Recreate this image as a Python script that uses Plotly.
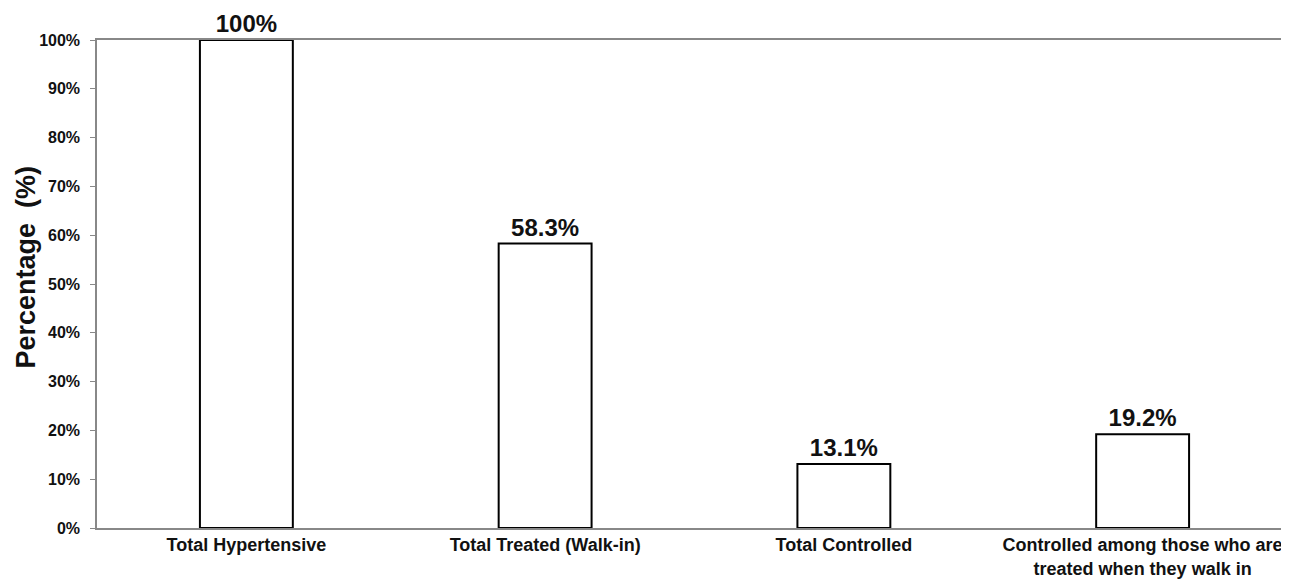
import plotly.graph_objects as go

categories = ["Total Hypertensive", "Total Treated (Walk-in)", "Total Controlled",
              "Controlled among those who are<br>treated when they walk in"]
values = [100, 58.3, 13.1, 19.2]
value_labels = ["100%", "58.3%", "13.1%", "19.2%"]
tick_vals = [0, 10, 20, 30, 40, 50, 60, 70, 80, 90, 100]
tick_text = ["0%", "10%", "20%", "30%", "40%", "50%", "60%", "70%", "80%", "90%", "100%"]
y_title = "Percentage  (%)"

fig = go.Figure(go.Bar(
    x=categories, y=values, text=value_labels, textposition="outside",
    textfont=dict(family="Liberation Sans", size=24, color="#111", weight="bold"),
    marker=dict(color="white", line=dict(color="black", width=2)),
    width=0.311, cliponaxis=False,
))

fig.update_layout(
    width=1289, height=580, plot_bgcolor="white", paper_bgcolor="white",
    margin=dict(l=89, r=5, t=32, b=60),
    font=dict(family="Liberation Sans", color="#111", size=16),
    showlegend=False,
    annotations=[dict(
        text=y_title, textangle=-90, xref="paper", yref="paper",
        x=-0.0598, y=0.535, xanchor="center", yanchor="middle", showarrow=False,
        font=dict(family="Liberation Sans", size=27, weight="bold", color="#111"),
    )],
)
fig.update_yaxes(
    range=[0, 100], tickvals=tick_vals, ticktext=tick_text,
    showgrid=False, zeroline=False, showline=True, linecolor="#888", linewidth=1.5,
    ticks="outside", ticklen=5, tickcolor="#888", ticklabelstandoff=7,
    tickfont=dict(family="Liberation Sans", size=16, weight="bold", color="#111"),
    automargin=False,
)
fig.update_xaxes(
    showgrid=False, showline=True, mirror=True, linecolor="#888", linewidth=1.5,
    ticks="", automargin=False,
    tickfont=dict(family="Liberation Sans", size=18, weight="bold", color="#111"),
)
fig.write_html("out.html")
